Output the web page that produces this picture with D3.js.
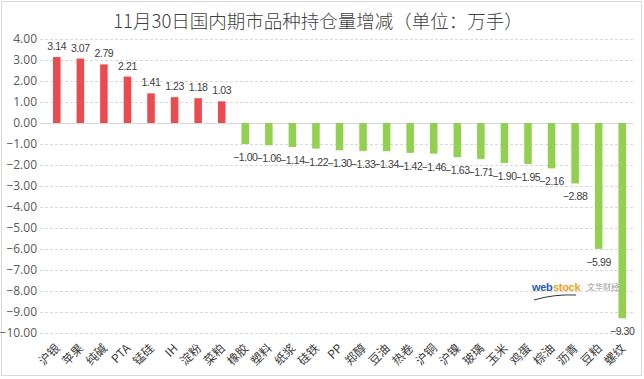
<!DOCTYPE html>
<html>
<head>
<meta charset="utf-8">
<script src="https://cdn.jsdelivr.net/npm/d3@7"></script>
<style>
  body { margin: 0; background: #fff; }
  text { font-family: "Noto Sans CJK SC", "Microsoft YaHei", sans-serif; }
</style>
</head>
<body>
<div class="chart"></div>
<script>
let categories = ["沪银", "苹果", "纯碱", "PTA", "锰硅", "IH", "淀粉", "菜粕", "橡胶", "塑料", "纸浆", "硅铁", "PP",
    "郑醇", "豆油", "热卷", "沪铜", "沪镍", "玻璃", "玉米", "鸡蛋", "棕油", "沥青", "豆粕", "螺纹"]
let values = [3.14, 3.07, 2.79, 2.21, 1.41, 1.23, 1.18, 1.03, -1.00, -1.06, -1.14, -1.22, -1.30,
    -1.33, -1.34, -1.42, -1.46, -1.63, -1.71, -1.90, -1.95, -2.16, -2.88, -5.99, -9.30]
let yTicks = [4, 3, 2, 1, 0, -1, -2, -3, -4, -5, -6, -7, -8, -9, -10]

let data = categories.map((c, i) => ({ name: c, value: values[i] }))

let width = 644, height = 379

let svg = d3.select('.chart')
    .append('svg')
    .attr('width', width)
    .attr('height', height)

// outer border
svg.append('rect')
    .attr('x', 1.5).attr('y', 1.5)
    .attr('width', width - 4).attr('height', height - 5)
    .attr('fill', '#fff')
    .attr('stroke', '#d9d9d9')

//scales
let x = d3.scaleBand()
    .domain(categories)
    .range([45, 634])
    .paddingInner(0.68)
    .paddingOuter(0.34)

let y = d3.scaleLinear()
    .domain([-10, 4])
    .range([333, 39])

// title
svg.append('text')
    .attr('x', 318).attr('y', 28)
    .attr('text-anchor', 'middle')
    .attr('font-size', 18.5)
    .attr('font-weight', 300)
    .attr('fill', '#404040')
    .text('11月30日国内期市品种持仓量增减（单位：万手）')

// gridlines + y labels
let yAxis = d3.axisLeft(y)
    .tickValues(yTicks)
    .tickSize(-(634 - 40))
    .tickFormat(d3.format('.2f'))

let gy = svg.append('g')
    .attr('transform', 'translate(40,0)')
    .call(yAxis)
gy.select('.domain').remove()
gy.selectAll('.tick line')
    .attr('stroke', '#d9d9d9')
    .attr('stroke-dasharray', d => d === 0 ? null : '3,2')
gy.selectAll('.tick text')
    .attr('x', -3)
    .attr('font-size', 12)
    .attr('fill', '#595959')
    .style('font-family', '"Open Sans", "Noto Sans", sans-serif')

// bars
svg.selectAll('.bar')
    .data(data)
    .enter().append('rect')
    .attr('class', 'bar')
    .attr('x', d => x(d.name))
    .attr('width', x.bandwidth())
    .attr('y', d => y(Math.max(0, d.value)))
    .attr('height', d => Math.abs(y(d.value) - y(0)))
    .attr('fill', d => d.value > 0 ? '#ea4b4f' : '#92d050')

// value labels
svg.selectAll('.val')
    .data(data)
    .enter().append('text')
    .attr('class', 'val')
    .attr('x', d => x(d.name) + x.bandwidth() / 2)
    .attr('y', d => d.value > 0 ? y(d.value) - 7 : y(d.value) + 17)
    .attr('text-anchor', 'middle')
    .attr('font-size', 10.5)
    .attr('letter-spacing', -0.4)
    .attr('fill', '#404040')
    .style('font-family', '"Liberation Sans", sans-serif')
    .text(d => d3.format('.2f')(d.value))

// category labels
svg.selectAll('.cat')
    .data(data)
    .enter().append('text')
    .attr('class', 'cat')
    .attr('text-anchor', 'end')
    .attr('font-size', 12)
    .attr('fill', '#404040')
    .attr('transform', d => 'translate(' + (x(d.name) + x.bandwidth() / 2 + 4) + ',349) rotate(-45)')
    .text(d => d.name)

// watermark
let wm = svg.append('g').attr('transform', 'translate(532,291)')
wm.append('text')
    .attr('font-size', 11).attr('font-weight', 'bold')
    .attr('fill', '#2b5aa8')
    .attr('letter-spacing', -0.3)
    .style('font-family', '"Liberation Sans", sans-serif')
    .text('web')
wm.append('text')
    .attr('x', 21)
    .attr('font-size', 11).attr('font-weight', 'bold')
    .attr('fill', '#f0a020')
    .attr('letter-spacing', -0.3)
    .style('font-family', '"Liberation Sans", sans-serif')
    .text('stock')
wm.append('text')
    .attr('x', 55).attr('y', -1)
    .attr('font-size', 8)
    .attr('fill', '#9a9a9a')
    .text('文华财经')
wm.append('path')
    .attr('d', 'M2,9 Q22,3 44,4')
    .attr('fill', 'none')
    .attr('stroke', '#333')
    .attr('stroke-width', 1)
</script>
</body>
</html>
